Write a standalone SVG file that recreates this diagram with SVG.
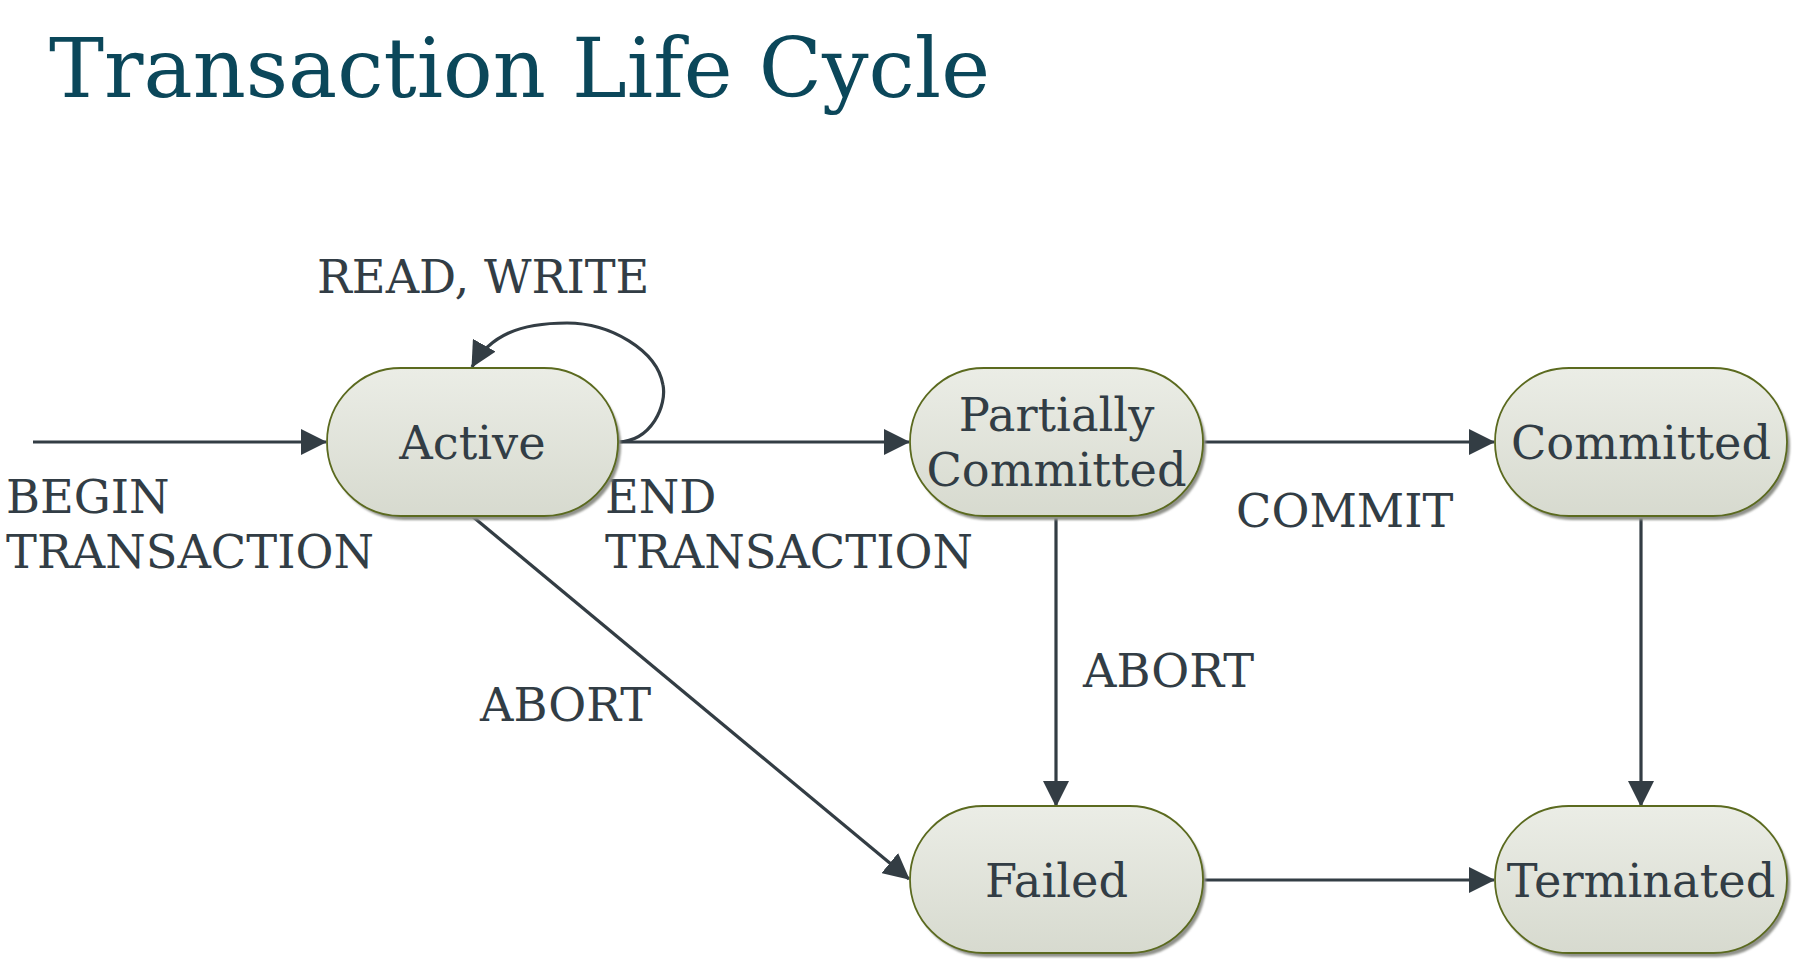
<svg xmlns="http://www.w3.org/2000/svg" width="1806" height="976" viewBox="0 0 1806 976">
<defs>
<linearGradient id="g" x1="0" y1="0" x2="0" y2="1">
<stop offset="0" stop-color="#ebede6"/>
<stop offset="1" stop-color="#d7dacf"/>
</linearGradient>
<filter id="sh" x="-10%" y="-10%" width="130%" height="130%">
<feGaussianBlur stdDeviation="1.2"/>
</filter>
<marker id="ah" markerWidth="26" markerHeight="26" viewBox="0 0 26 26" refX="25" refY="13" orient="auto" markerUnits="userSpaceOnUse">
<path d="M0,0 L26,13 L0,26 Z" fill="#333d44"/>
</marker>
</defs>
<style>
.node rect.b{fill:url(#g);stroke:#5b6a1f;stroke-width:1.8}
.node rect.s{fill:#8f918a;filter:url(#sh)}
.node text{font-family:"DejaVu Serif",serif;font-size:46.3px;fill:#323d45;text-anchor:middle}
.lbl{font-family:"DejaVu Serif",serif;font-size:46.3px;fill:#323d45}
.e{fill:none;stroke:#333d44;stroke-width:3.2;marker-end:url(#ah)}
</style>
<rect width="1806" height="976" fill="#ffffff"/>
<text x="49" y="97" font-family="DejaVu Serif, serif" font-size="82.5" fill="#0b475a">Transaction Life Cycle</text>
<g id="connectors">
<path class="e" d="M33,442 L326,442"/>
<path class="e" d="M618,442 C652,441 667,405 663,385 C657,350 610,323 567,323 C520,323 490,335 472,367"/>
<path class="e" d="M618,442 L909,442"/>
<path class="e" d="M1203,442 L1494,442"/>
<path class="e" d="M1056,516 L1056,806"/>
<path class="e" d="M472,516 L909,879"/>
<path class="e" d="M1641,516 L1641,806"/>
<path class="e" d="M1203,880 L1494,880"/>
<text class="lbl" x="317" y="293">READ, WRITE</text>
<text class="lbl" x="6" y="513">BEGIN</text>
<text class="lbl" x="6" y="568">TRANSACTION</text>
<text class="lbl" x="605" y="513">END</text>
<text class="lbl" x="605" y="568">TRANSACTION</text>
<text class="lbl" x="1236" y="527">COMMIT</text>
<text class="lbl" x="1083" y="687">ABORT</text>
<text class="lbl" x="480" y="721">ABORT</text>
</g>
<g id="active" class="node">
<rect class="s" x="330" y="372" width="291" height="148" rx="74"/>
<rect class="b" x="327" y="368" width="291" height="148" rx="74"/>
<text x="472.5" y="459">Active</text>
</g>
<g id="partially-committed" class="node">
<rect class="s" x="913" y="372" width="293" height="148" rx="74"/>
<rect class="b" x="910" y="368" width="293" height="148" rx="74"/>
<text x="1056.5" y="431">Partially</text>
<text x="1056.5" y="486">Committed</text>
</g>
<g id="committed" class="node">
<rect class="s" x="1498" y="372" width="292" height="148" rx="74"/>
<rect class="b" x="1495" y="368" width="292" height="148" rx="74"/>
<text x="1641" y="459">Committed</text>
</g>
<g id="failed" class="node">
<rect class="s" x="913" y="810" width="293" height="147" rx="73.5"/>
<rect class="b" x="910" y="806" width="293" height="147" rx="73.5"/>
<text x="1056.5" y="897">Failed</text>
</g>
<g id="terminated" class="node">
<rect class="s" x="1498" y="810" width="292" height="147" rx="73.5"/>
<rect class="b" x="1495" y="806" width="292" height="147" rx="73.5"/>
<text x="1641" y="897">Terminated</text>
</g>
</svg>
